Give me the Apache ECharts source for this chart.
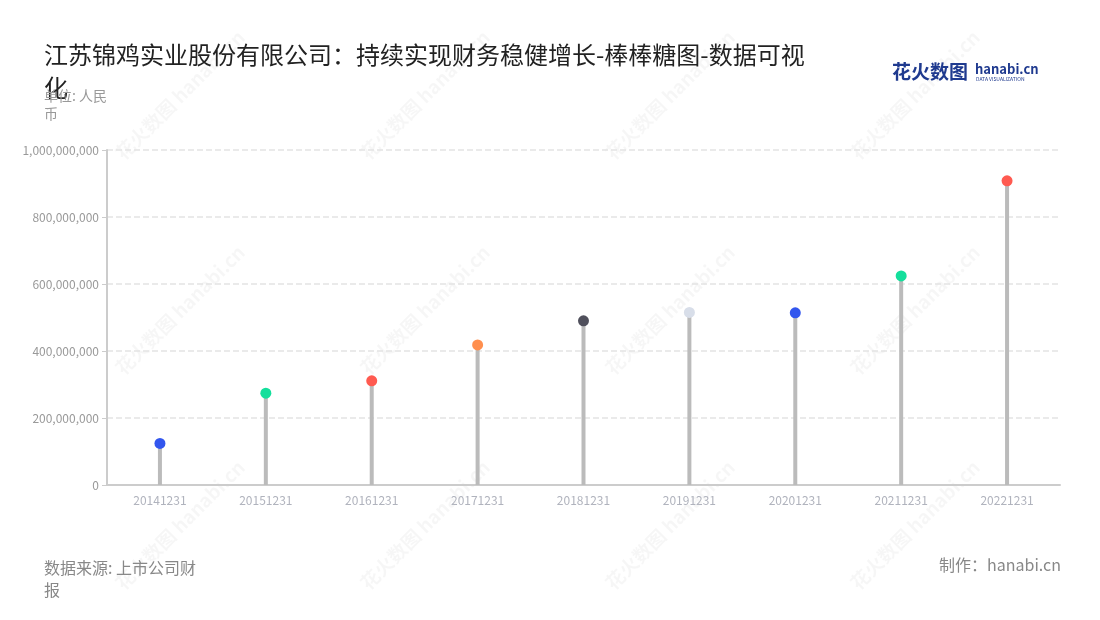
<!DOCTYPE html>
<html>
<head>
<meta charset="utf-8">
<script src="https://cdn.jsdelivr.net/npm/echarts@6/dist/echarts.min.js"></script>
<style>
html,body{margin:0;padding:0;background:#fff;}
#main{width:1100px;height:620px;}
</style>
</head>
<body>
<div id="main"></div>
<script>
var categories = ['20141231','20151231','20161231','20171231','20181231','20191231','20201231','20211231','20221231'];
var values = [124000000, 274000000, 311000000, 418000000, 490000000, 515000000, 514000000, 624000000, 908000000];
var dotColors = ['#3256EE','#14DF9C','#FF5A50','#FF8F4E','#50505C','#D8DEE9','#3256EE','#14DF9C','#FF5A50'];
var yTicks = [0, 200000000, 400000000, 600000000, 800000000, 1000000000];

var FONT = '"Noto Sans CJK SC","Noto Sans",sans-serif';

function fmt(v){ return String(v).replace(/\B(?=(\d{3})+(?!\d))/g, ','); }

var watermarks = [];
var wxs = [180, 425, 670, 915];
var wys = [95, 310, 525];
wxs.forEach(function(x){
  wys.forEach(function(y){
    watermarks.push({
      type: 'text', x: x, y: y, rotation: Math.PI/4, silent: true, z: -1,
      style: { text: '花火数图 hanabi.cn', fill: 'rgba(0,0,0,0.035)', font: 'bold 19px ' + FONT, align: 'center', verticalAlign: 'middle' }
    });
  });
});

var chart = echarts.init(document.getElementById('main'));
chart.setOption({
  backgroundColor: '#fff',
  animation: false,
  title: [
    { text: '江苏锦鸡实业股份有限公司：持续实现财务稳健增长-棒棒糖图-数据可视化', left: 39, top: 33,
      textStyle: { fontFamily: FONT, fontSize: 24, fontWeight: 'normal', color: '#222', width: 775, overflow: 'break', lineHeight: 33 } },
    { text: '单位: 人民币', left: 39, top: 82,
      textStyle: { fontFamily: FONT, fontSize: 14, fontWeight: 'normal', color: '#999', width: 76, overflow: 'break', lineHeight: 18 } },
    { text: '数据来源: 上市公司财报', left: 39, top: 552,
      textStyle: { fontFamily: FONT, fontSize: 16, fontWeight: 'normal', color: '#888', width: 166, overflow: 'break', lineHeight: 22 } },
    { text: '制作：hanabi.cn', right: 34, top: 552,
      textStyle: { fontFamily: FONT, fontSize: 16, fontWeight: 'normal', color: '#888' } }
  ],
  graphic: watermarks.concat([
    { type: 'text', x: 892, y: 72, style: { text: '花火数图', fill: '#1f3a8f', font: 'bold 19px ' + FONT, verticalAlign: 'middle' } },
    { type: 'text', x: 975, y: 69, style: { text: 'hanabi.cn', fill: '#1f3a8f', font: 'bold 13px ' + FONT, verticalAlign: 'middle' } },
    { type: 'text', x: 976, y: 79, style: { text: 'DATA VISUALIZATION', fill: '#1f3a8f', font: '5px ' + FONT, verticalAlign: 'middle' } }
  ]),
  grid: { left: 107, right: 40, top: 150, bottom: 135 },
  xAxis: {
    type: 'category',
    data: categories,
    axisLine: { lineStyle: { color: '#ccc', width: 2 } },
    axisTick: { alignWithLabel: true, lineStyle: { color: '#ccc', width: 2 }, length: 5 },
    axisLabel: { color: '#b0b3bd', fontSize: 12, fontFamily: FONT, margin: 9 }
  },
  yAxis: {
    type: 'value',
    min: 0, max: 1000000000, interval: 200000000,
    axisLine: { show: true, lineStyle: { color: '#ccc', width: 2 } },
    axisTick: { show: true, lineStyle: { color: '#ccc' }, length: 5 },
    axisLabel: { color: '#999', fontSize: 12, fontFamily: FONT, formatter: function(v){ return yTicks.indexOf(v) >= 0 ? fmt(v) : ''; } },
    splitLine: { lineStyle: { color: '#e3e3e3', type: 'dashed', width: 1.5 } }
  },
  series: [
    { type: 'bar', data: values, barWidth: 4, itemStyle: { color: '#bbbbbb' }, silent: true },
    { type: 'scatter', data: values.map(function(v, i){ return { value: v, itemStyle: { color: dotColors[i], opacity: 1 } }; }),
      symbolSize: 11, z: 5 }
  ]
});
</script>
</body>
</html>
